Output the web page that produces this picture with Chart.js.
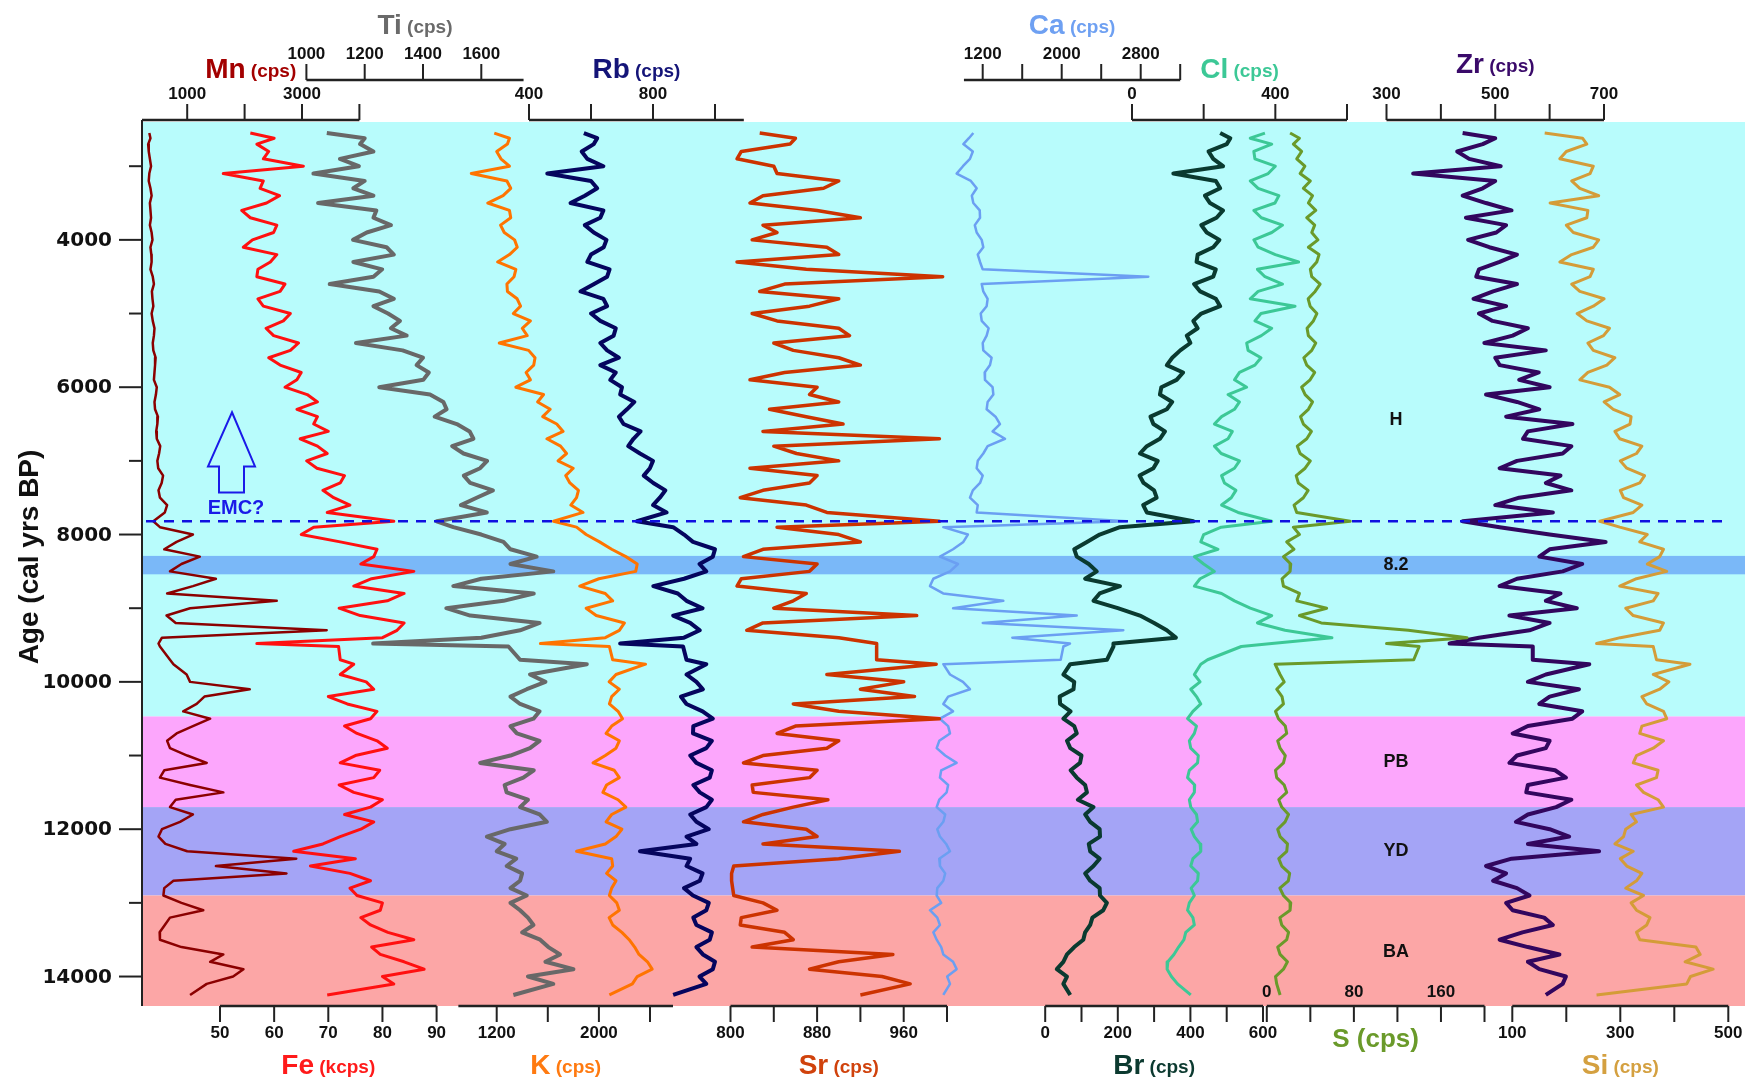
<!DOCTYPE html>
<html>
<head>
<meta charset="utf-8">
<script src="https://cdn.jsdelivr.net/npm/chart.js@4.4.0/dist/chart.umd.min.js"></script>
<style>
  html, body { margin: 0; padding: 0; background: #fff; }
  canvas { display: block; }
</style>
</head>
<body>
<canvas id="xrf" width="1747" height="1084"></canvas>
<script>
// ===============================
// Data (age in cal yrs BP, values per element)
// ===============================
const ages = [
  2550, 2620, 2700, 2800, 2900, 3000, 3100, 3200, 3300, 3400,
  3500, 3600, 3700, 3800, 3900, 4000, 4100, 4200, 4300, 4400,
  4500, 4600, 4700, 4800, 4900, 5000, 5100, 5200, 5300, 5400,
  5500, 5600, 5700, 5800, 5900, 6000, 6100, 6200, 6300, 6400,
  6500, 6600, 6700, 6800, 6900, 7000, 7100, 7200, 7300, 7400,
  7500, 7600, 7700, 7820, 7900, 8000, 8100, 8200, 8300, 8400,
  8500, 8600, 8700, 8800, 8900, 9000, 9100, 9200, 9300, 9400,
  9480, 9520, 9700, 9760, 9900, 10000, 10100, 10200, 10300, 10400,
  10500, 10600, 10700, 10800, 10900, 11000, 11100, 11200, 11300, 11400,
  11500, 11600, 11700, 11800, 11900, 12000, 12100, 12200, 12300, 12400,
  12500, 12600, 12700, 12800, 12900, 13000, 13100, 13200, 13300, 13400,
  13500, 13600, 13700, 13800, 13900, 14000, 14100, 14250];

const mn = [
  340, 360, 320, 330, 350, 370, 340, 330, 360, 380,
  350, 360, 370, 350, 380, 395, 360, 375, 380, 360,
  400, 420, 385, 395, 410, 380, 400, 430, 420, 400,
  410, 450, 440, 430, 420, 470, 455, 430, 440, 490,
  480, 460, 470, 530, 510, 480, 495, 580, 555, 500,
  525, 650, 610, 410, 525, 1100, 815, 600, 1220, 900,
  700, 1500, 1100, 650, 2560, 1050, 640, 800, 3430, 560,
  500, 525, 700, 760, 990, 1050, 2090, 1300, 1165, 930,
  1400, 1100, 815, 650, 700, 1000, 1340, 600, 525, 1050,
  1630, 800, 700, 1100, 875, 560, 500, 620, 1000, 2900,
  1500, 2730, 760, 600, 585, 900, 1280, 700, 610, 520,
  525, 900, 1630, 1400, 1980, 1800, 1340, 1050];
const fe = [
  55.6, 60, 56.8, 59, 58, 65.4, 50.6, 58, 57.4, 61,
  58.6, 54, 55.6, 60.5, 59.9, 56, 54.3, 60.5, 59.3, 57,
  56.8, 62, 61.1, 57, 58.0, 63, 61.7, 58.5, 59.9, 64.5,
  63.0, 59, 61.1, 65, 64.2, 62, 66.1, 68, 64.2, 68,
  67.3, 70, 64.8, 68, 69.8, 66, 67.9, 73, 72.2, 69,
  71.0, 74, 69.8, 82.1, 67.3, 65, 72.2, 79, 78.4, 76,
  85.8, 78, 74.7, 84, 80.9, 72, 75.9, 84, 82.7, 80,
  56.8, 71.9, 72.2, 74.7, 72.2, 77, 78.4, 70, 73.5, 79,
  77.8, 73, 75.3, 79, 80.9, 75, 72.2, 79.5, 78.4, 72,
  74.7, 80, 77.8, 73, 78.4, 76, 72.2, 69, 63.6, 75,
  66.7, 74, 77.8, 74, 75.3, 80, 79.6, 76, 77.8, 81,
  85.8, 78, 79.6, 84, 87.7, 80, 82.1, 69.8];
const ti = [
  1070, 1200, 1184, 1230, 1115, 1180, 1024, 1200, 1161, 1230,
  1040, 1240, 1230, 1290, 1207, 1160, 1275, 1300, 1161, 1260,
  1230, 1080, 1250, 1300, 1230, 1280, 1321, 1290, 1344, 1170,
  1330, 1400, 1378, 1420, 1401, 1250, 1424, 1470, 1481, 1440,
  1516, 1560, 1573, 1500, 1539, 1620, 1596, 1540, 1562, 1640,
  1584, 1530, 1619, 1447, 1504, 1600, 1676, 1700, 1790, 1700,
  1847, 1600, 1504, 1780, 1676, 1480, 1562, 1800, 1733, 1600,
  1229, 1693, 1733, 1962, 1767, 1820, 1756, 1700, 1733, 1800,
  1779, 1700, 1722, 1800, 1767, 1700, 1596, 1780, 1744, 1680,
  1687, 1760, 1733, 1800, 1825, 1700, 1619, 1680, 1653, 1720,
  1687, 1740, 1733, 1700, 1756, 1700, 1733, 1760, 1779, 1740,
  1802, 1830, 1870, 1820, 1916, 1760, 1847, 1710];
const k = [
  1181, 1300, 1284, 1200, 1233, 1300, 1001, 1280, 1310, 1250,
  1130, 1300, 1310, 1230, 1259, 1340, 1361, 1300, 1207, 1350,
  1336, 1280, 1284, 1360, 1387, 1330, 1464, 1400, 1439, 1220,
  1450, 1500, 1490, 1430, 1464, 1350, 1567, 1520, 1619, 1560,
  1670, 1720, 1593, 1700, 1747, 1680, 1799, 1740, 1773, 1840,
  1825, 1780, 1876, 1645, 1825, 1900, 2005, 2100, 2211, 2300,
  2288, 2000, 1850, 2050, 2108, 1900, 1979, 2200, 2160, 2050,
  1542, 2082, 2108, 2365, 2134, 2080, 2160, 2100, 2082, 2150,
  2185, 2100, 2056, 2160, 2134, 2050, 1954, 2120, 2160, 2060,
  2031, 2150, 2211, 2100, 2056, 2180, 2134, 2050, 1825, 2100,
  2108, 2060, 2134, 2100, 2082, 2140, 2160, 2080, 2108, 2180,
  2237, 2280, 2314, 2380, 2417, 2300, 2262, 2082];
const rb = [
  577, 620, 609, 570, 588, 640, 459, 600, 620, 580,
  534, 640, 630, 580, 609, 650, 641, 600, 588, 660,
  652, 610, 566, 640, 652, 600, 630, 680, 673, 630,
  652, 690, 630, 680, 662, 700, 694, 740, 716, 690,
  705, 760, 737, 720, 758, 800, 790, 770, 801, 840,
  822, 800, 844, 748, 865, 900, 929, 1000, 993, 950,
  972, 900, 801, 880, 908, 960, 865, 920, 951, 900,
  694, 897, 908, 972, 908, 940, 961, 890, 908, 960,
  993, 930, 929, 990, 972, 920, 940, 990, 983, 930,
  951, 990, 972, 920, 940, 980, 908, 940, 758, 920,
  908, 960, 951, 900, 929, 980, 972, 930, 940, 990,
  983, 940, 961, 1000, 993, 950, 972, 865];
const sr = [
  827, 860, 855, 810, 806, 840, 843, 900, 886, 830,
  818, 880, 920, 830, 843, 820, 889, 900, 806, 870,
  996, 850, 827, 900, 873, 820, 843, 900, 910, 840,
  858, 900, 920, 850, 818, 880, 873, 900, 836, 870,
  904, 830, 993, 840, 861, 900, 818, 880, 873, 830,
  809, 870, 889, 993, 843, 900, 920, 830, 812, 880,
  873, 810, 806, 870, 858, 840, 972, 830, 815, 900,
  935, 935, 935, 990, 889, 960, 920, 970, 858, 900,
  993, 860, 843, 900, 889, 830, 812, 880, 873, 820,
  821, 890, 858, 830, 812, 870, 880, 830, 956, 900,
  803, 801, 801, 802, 803, 830, 843, 810, 809, 850,
  858, 820, 950, 900, 873, 940, 966, 920];
const ca = [
  1105, 1060, 1004, 1100, 1071, 1000, 936, 1080, 1139, 1090,
  1105, 1170, 1173, 1120, 1139, 1190, 1206, 1150, 1173, 1200,
  2877, 1190, 1206, 1250, 1240, 1180, 1190, 1260, 1240, 1200,
  1206, 1290, 1274, 1220, 1223, 1300, 1308, 1250, 1240, 1330,
  1375, 1300, 1426, 1250, 1206, 1150, 1139, 1200, 1173, 1100,
  1071, 1150, 1139, 2658, 801, 1050, 1004, 900, 767, 950,
  869, 700, 666, 800, 1409, 900, 2152, 1200, 2624, 1500,
  2084, 2017, 1990, 801, 869, 1000, 1071, 850, 801, 900,
  767, 850, 869, 760, 734, 820, 936, 780, 767, 850,
  835, 760, 734, 820, 801, 740, 767, 830, 869, 760,
  767, 820, 801, 740, 734, 780, 666, 740, 767, 700,
  734, 780, 801, 900, 936, 840, 869, 801];
const br = [
  482, 510, 500, 450, 463, 490, 353, 470, 482, 440,
  454, 490, 472, 430, 445, 480, 463, 420, 417, 470,
  463, 410, 427, 470, 482, 430, 408, 420, 390, 400,
  372, 350, 335, 380, 362, 320, 316, 350, 335, 290,
  298, 330, 316, 280, 261, 310, 298, 260, 271, 300,
  307, 270, 280, 408, 206, 150, 115, 80, 87, 120,
  142, 110, 206, 150, 133, 200, 261, 300, 335, 360,
  188, 188, 170, 69, 50, 80, 78, 40, 41, 70,
  50, 80, 87, 60, 69, 100, 96, 70, 87, 110,
  115, 90, 133, 110, 124, 150, 151, 120, 124, 150,
  133, 110, 124, 150, 151, 170, 160, 130, 124, 110,
  105, 80, 60, 50, 32, 60, 50, 69];
const cl = [
  371, 330, 390, 340, 343, 400, 380, 330, 352, 410,
  399, 340, 361, 420, 390, 340, 352, 400, 465, 350,
  371, 420, 352, 330, 455, 360, 343, 390, 361, 320,
  324, 360, 343, 300, 286, 320, 268, 300, 286, 250,
  230, 280, 268, 230, 249, 300, 286, 250, 258, 290,
  277, 250, 296, 390, 249, 200, 192, 240, 174, 200,
  230, 190, 174, 250, 286, 330, 390, 350, 427, 558,
  390, 305, 211, 192, 174, 190, 164, 180, 192, 170,
  155, 180, 174, 160, 164, 185, 183, 160, 155, 175,
  174, 160, 164, 180, 183, 165, 174, 190, 192, 170,
  164, 185, 183, 165, 174, 160, 155, 170, 174, 150,
  145, 130, 117, 100, 98, 110, 127, 164];
const s = [
  21.4, 30, 24.4, 32, 27.5, 35, 30.6, 40, 33.6, 42,
  38.2, 45, 36.7, 44, 41.3, 47, 38.2, 48, 45.9, 40,
  41.3, 49, 44.4, 38, 39.8, 46, 42.8, 37, 38.2, 45,
  41.3, 34, 36.7, 44, 39.8, 32, 35.2, 42, 38.2, 31,
  33.6, 41, 36.7, 28, 30.6, 40, 35.2, 27, 29.0, 38,
  33.6, 25, 27.5, 76.6, 24.4, 30, 18.3, 25, 15.3, 22,
  21.4, 14, 15.3, 30, 27.5, 55, 30, 50, 130, 184,
  110, 140, 135, 7.6, 12.2, 16, 9.1, 14, 15.3, 8,
  10.7, 17, 18.3, 10, 12.2, 17, 15.3, 8, 9.1, 16,
  18.3, 11, 13.7, 20, 16.8, 10, 12.2, 19, 18.3, 11,
  13.7, 21, 19.8, 12, 15.3, 22, 21.4, 12, 13.7, 20,
  18.3, 10, 12.2, 19, 15.3, 8, 9.1, 12.2];
const zr = [
  440, 500, 477, 430, 452, 510, 349, 500, 477, 440,
  483, 530, 446, 520, 502, 450, 489, 540, 508, 470,
  465, 540, 496, 460, 520, 470, 495, 560, 532, 480,
  593, 500, 508, 580, 544, 600, 483, 540, 581, 520,
  642, 560, 551, 640, 624, 540, 508, 620, 593, 640,
  544, 500, 606, 440, 508, 600, 703, 600, 581, 660,
  624, 540, 508, 620, 593, 650, 526, 600, 563, 470,
  416, 569, 569, 673, 593, 560, 654, 600, 581, 660,
  642, 560, 532, 600, 593, 540, 526, 610, 630, 560,
  557, 640, 612, 560, 538, 600, 636, 560, 691, 530,
  483, 520, 496, 540, 563, 520, 532, 590, 606, 550,
  508, 560, 618, 560, 581, 630, 624, 593];
const si = [
  160, 230, 238, 200, 188, 250, 244, 210, 225, 260,
  170, 240, 238, 200, 213, 260, 250, 210, 188, 250,
  244, 210, 225, 270, 250, 220, 238, 280, 269, 240,
  250, 290, 275, 240, 225, 280, 299, 270, 287, 320,
  318, 290, 299, 340, 330, 300, 312, 345, 336, 300,
  306, 340, 324, 262, 299, 350, 336, 380, 373, 350,
  386, 330, 299, 370, 361, 310, 324, 380, 373, 300,
  256, 361, 367, 429, 361, 390, 373, 340, 349, 380,
  386, 340, 336, 380, 361, 330, 324, 370, 367, 330,
  343, 370, 380, 320, 330, 310, 306, 290, 324, 300,
  312, 340, 330, 310, 343, 320, 330, 355, 349, 330,
  336, 440, 448, 420, 472, 430, 423, 256];

// tick values for each element axis
const mnTicks = [1000, 2000, 3000, 4000], mnLabels = [1000, 3000];
const tiTicks = [1000, 1200, 1400, 1600], tiLabels = [1000, 1200, 1400, 1600];
const rbTicks = [400, 600, 800, 1000], rbLabels = [400, 800];
const caTicks = [1200, 1600, 2000, 2400, 2800, 3200], caLabels = [1200, 2000, 2800];
const clTicks = [0, 200, 400, 600], clLabels = [0, 400];
const zrTicks = [300, 400, 500, 600, 700], zrLabels = [300, 500, 700];
const feTicks = [50, 60, 70, 80, 90], feLabels = [50, 60, 70, 80, 90];
const kTicks = [1200, 1600, 2000, 2400], kLabels = [1200, 2000];
const srTicks = [800, 840, 880, 920, 960, 1000], srLabels = [800, 880, 960];
const brTicks = [0, 100, 200, 300, 400, 500, 600], brLabels = [0, 200, 400, 600];
const sTicks = [0, 40, 80, 120, 160, 200], sLabels = [0, 80, 160];
const siTicks = [100, 200, 300, 400, 500], siLabels = [100, 300, 500];

// climate zones (ages)
const zoneNames = ["H", "PB", "YD", "BA"];
const zoneTop = [2400, 10470, 11700, 12900];
const zoneBottom = [10470, 11700, 12900, 14400];
const zoneLabelAge = [6450, 11090, 12300, 13665];
const event82 = [8290, 8540];
const emcAge = 7820;

// ===============================
// Layout helpers
// ===============================
const AREA = { left: 142, top: 122, right: 1745, bottom: 1006 };
const FONT = '"Liberation Sans", Arial, sans-serif';

// value v1 at pixel p1, v2 at p2 -> scale min / max for the full plot width
function span(v1, p1, v2, p2) {
  const kk = (v2 - v1) / (p2 - p1);
  return { min: v1 - (p1 - AREA.left) * kk, max: v1 + (AREA.right - p1) * kk };
}

const series = [
  { id: "Mn", data: mn, color: "#8b0000", width: 2.5, span: span(1000, 187.2, 4000, 359.4) },
  { id: "Fe", data: fe, color: "#ff1010", width: 3, span: span(50, 220, 90, 436.6) },
  { id: "Ti", data: ti, color: "#686868", width: 4, span: span(1000, 306.4, 1600, 481.3) },
  { id: "K", data: k, color: "#ff7400", width: 3, span: span(1200, 496.7, 2400, 650) },
  { id: "Rb", data: rb, color: "#05055e", width: 4, span: span(400, 529, 1000, 715) },
  { id: "Sr", data: sr, color: "#cc3300", width: 3.5, span: span(800, 730.5, 1000, 947) },
  { id: "Ca", data: ca, color: "#6b9ff2", width: 2.5, span: span(1200, 982.7, 2800, 1140.7) },
  { id: "Br", data: br, color: "#0a3a30", width: 4, span: span(0, 1045.2, 600, 1263) },
  { id: "Cl", data: cl, color: "#3cc896", width: 3, span: span(0, 1132, 600, 1347) },
  { id: "S", data: s, color: "#6a9a2a", width: 3, span: span(0, 1266.8, 200, 1484.5) },
  { id: "Zr", data: zr, color: "#32065e", width: 4, span: span(300, 1386.5, 700, 1604) },
  { id: "Si", data: si, color: "#d49c38", width: 3, span: span(100, 1512.3, 500, 1728.3) },
];

const axes = [
  { id: "Mn", side: "top", lineY: 120, from: null, to: 4000, ticks: mnTicks, labels: mnLabels, unit: " (cps)", color: "#a30000", titleY: 70 },
  { id: "Ti", side: "top", lineY: 80, from: 1000, to: 1745, ticks: tiTicks, labels: tiLabels, unit: " (cps)", color: "#6a6a6a", titleY: 26 },
  { id: "Rb", side: "top", lineY: 120, from: 400, to: 1093, ticks: rbTicks, labels: rbLabels, unit: " (cps)", color: "#141478", titleY: 70 },
  { id: "Ca", side: "top", lineY: 80, from: 1010, to: 3200, ticks: caTicks, labels: caLabels, unit: " (cps)", color: "#6ea0f2", titleY: 26 },
  { id: "Cl", side: "top", lineY: 120, from: 0, to: 600, ticks: clTicks, labels: clLabels, unit: " (cps)", color: "#3cc896", titleY: 70 },
  { id: "Zr", side: "top", lineY: 120, from: 300, to: 700, ticks: zrTicks, labels: zrLabels, unit: " (cps)", color: "#3a0a6a", titleY: 65 },
  { id: "Fe", side: "bottom", lineY: 1006, from: 50, to: 90, ticks: feTicks, labels: feLabels, unit: " (kcps)", color: "#ff1a1a", titleY: 1066 },
  { id: "K", side: "bottom", lineY: 1006, from: 900, to: 2580, ticks: kTicks, labels: kLabels, unit: " (cps)", color: "#ff7a10", titleY: 1066 },
  { id: "Sr", side: "bottom", lineY: 1006, from: 800, to: 1000, ticks: srTicks, labels: srLabels, unit: " (cps)", color: "#d0420c", titleY: 1066 },
  { id: "Br", side: "bottom", lineY: 1006, from: 0, to: 600, ticks: brTicks, labels: brLabels, unit: " (cps)", color: "#0c3a30", titleY: 1066 },
  { id: "S", side: "bottom", lineY: 1006, from: 0, to: 200, ticks: sTicks, labels: sLabels, unit: " (cps)", color: "#6a9a2a", titleY: 1040, inside: true, big: true },
  { id: "Si", side: "bottom", lineY: 1006, from: 100, to: 500, ticks: siTicks, labels: siLabels, unit: " (cps)", color: "#d4a040", titleY: 1066 },
];

function drawTitle(ctx, x, y, sym, unit, color, big) {
  ctx.save();
  ctx.fillStyle = color;
  ctx.textBaseline = "middle";
  const f1 = "bold " + (big ? 26 : 28) + "px " + FONT;
  const f2 = "bold " + (big ? 26 : 19) + "px " + FONT;
  ctx.font = f1;
  const w1 = ctx.measureText(sym).width;
  ctx.font = f2;
  const w2 = ctx.measureText(unit).width;
  const x0 = x - (w1 + w2) / 2;
  ctx.textAlign = "left";
  ctx.font = f1;
  ctx.fillText(sym, x0, y);
  ctx.font = f2;
  ctx.fillText(unit, x0 + w1, y + (big ? 0 : 2));
  ctx.restore();
}

const decor = {
  id: "decor",
  beforeDatasetsDraw(chart) {
    const { ctx, chartArea } = chart;
    const y = chart.scales.y;
    const bandColors = ["#b8fcfc", "#fca6fc", "#a4a4f6", "#fca6a6"];
    ctx.save();
    zoneNames.forEach((z, i) => {
      const y0 = y.getPixelForValue(zoneTop[i]);
      const y1 = y.getPixelForValue(zoneBottom[i]);
      ctx.fillStyle = bandColors[i];
      ctx.fillRect(chartArea.left, y0, chartArea.right - chartArea.left, y1 - y0);
    });
    const e0 = y.getPixelForValue(event82[0]);
    const e1 = y.getPixelForValue(event82[1]);
    ctx.fillStyle = "#7ab8f8";
    ctx.fillRect(chartArea.left, e0, chartArea.right - chartArea.left, e1 - e0);
    ctx.restore();
  },
  afterDatasetsDraw(chart) {
    const { ctx, chartArea } = chart;
    const y = chart.scales.y;
    ctx.save();

    // EMC dashed line
    const yd = y.getPixelForValue(emcAge);
    ctx.strokeStyle = "#1010e0";
    ctx.lineWidth = 2.5;
    ctx.setLineDash([10, 8]);
    ctx.beginPath();
    ctx.moveTo(chartArea.left + 4, yd);
    ctx.lineTo(1722, yd);
    ctx.stroke();
    ctx.setLineDash([]);

    // hollow up arrow + label
    const tip = y.getPixelForValue(6340);
    const head = y.getPixelForValue(7075);
    const base = y.getPixelForValue(7430);
    ctx.strokeStyle = "#1a1ae8";
    ctx.lineWidth = 2;
    ctx.beginPath();
    ctx.moveTo(232, tip);
    ctx.lineTo(255, head);
    ctx.lineTo(244, head);
    ctx.lineTo(244, base);
    ctx.lineTo(219, base);
    ctx.lineTo(219, head);
    ctx.lineTo(208, head);
    ctx.closePath();
    ctx.stroke();
    ctx.fillStyle = "#1a1ae8";
    ctx.font = "bold 20px " + FONT;
    ctx.textAlign = "center";
    ctx.textBaseline = "middle";
    ctx.fillText("EMC?", 236, y.getPixelForValue(7640));

    // zone labels
    ctx.fillStyle = "#111";
    ctx.font = "bold 18px " + FONT;
    zoneNames.forEach((z, i) => ctx.fillText(z, 1396, y.getPixelForValue(zoneLabelAge[i])));
    ctx.fillText("8.2", 1396, y.getPixelForValue((event82[0] + event82[1]) / 2));
    ctx.restore();
  },
  afterDraw(chart) {
    const { ctx, chartArea } = chart;
    const y = chart.scales.y;
    ctx.save();
    ctx.strokeStyle = "#222";
    ctx.fillStyle = "#111";

    // age axis
    ctx.lineWidth = 2;
    ctx.beginPath();
    ctx.moveTo(chartArea.left, chartArea.top - 2);
    ctx.lineTo(chartArea.left, chartArea.bottom);
    ctx.stroke();
    ctx.font = "bold 20px 'DejaVu Sans', sans-serif";
    ctx.textAlign = "right";
    ctx.textBaseline = "middle";
    for (let a = 3000; a <= 14000; a += 1000) {
      const py = y.getPixelForValue(a);
      const major = a % 2000 === 0;
      ctx.beginPath();
      ctx.moveTo(chartArea.left - (major ? 23 : 13), py);
      ctx.lineTo(chartArea.left, py);
      ctx.stroke();
      if (major) ctx.fillText(String(a), chartArea.left - 30, py + 1);
    }
    ctx.save();
    ctx.translate(30, 557);
    ctx.rotate(-Math.PI / 2);
    ctx.textAlign = "center";
    ctx.font = "bold 28px " + FONT;
    ctx.fillText("Age (cal yrs BP)", 0, 0);
    ctx.restore();

    // element axes
    axes.forEach((ax) => {
      const sc = chart.scales[ax.id];
      const dir = ax.side === "top" ? -1 : 1;
      const x0 = ax.from === null ? chartArea.left : sc.getPixelForValue(ax.from);
      const x1 = sc.getPixelForValue(ax.to);
      ctx.lineWidth = 2.5;
      ctx.beginPath();
      ctx.moveTo(x0, ax.lineY);
      ctx.lineTo(x1, ax.lineY);
      ctx.stroke();
      ctx.lineWidth = 2;
      ax.ticks.forEach((t) => {
        const px = sc.getPixelForValue(t);
        ctx.beginPath();
        ctx.moveTo(px, ax.lineY);
        ctx.lineTo(px, ax.lineY + dir * 16);
        ctx.stroke();
      });
      ctx.font = "bold 17px " + FONT;
      ctx.textAlign = "center";
      ctx.textBaseline = "middle";
      ctx.fillStyle = "#111";
      ax.labels.forEach((t) => {
        const px = sc.getPixelForValue(t);
        let ly = ax.side === "top" ? ax.lineY - 26 : ax.lineY + 27;
        if (ax.inside) ly = ax.lineY - 14;
        ctx.fillText(String(t), px, ly);
      });
      drawTitle(ctx, (x0 + x1) / 2, ax.titleY, ax.id, ax.unit, ax.color, ax.big);
    });
    ctx.restore();
  },
};

// ===============================
// Chart
// ===============================
const scales = {
  y: { type: "linear", reverse: true, min: 2400, max: 14400, display: false },
};
series.forEach((sr) => {
  scales[sr.id] = { type: "linear", axis: "x", position: "top", min: sr.span.min, max: sr.span.max, display: false };
});

new Chart(document.getElementById("xrf"), {
  type: "scatter",
  data: {
    datasets: series.map((sr) => ({
      label: sr.id,
      data: ages.map((a, i) => ({ x: sr.data[i], y: a })),
      xAxisID: sr.id,
      yAxisID: "y",
      showLine: true,
      borderColor: sr.color,
      borderWidth: sr.width,
      pointRadius: 0,
      tension: 0,
      borderJoinStyle: "round",
    })),
  },
  options: {
    responsive: false,
    devicePixelRatio: 1,
    animation: false,
    layout: { padding: { left: AREA.left, top: AREA.top, right: 1747 - AREA.right, bottom: 1084 - AREA.bottom } },
    plugins: { legend: { display: false }, tooltip: { enabled: false } },
    scales: scales,
  },
  plugins: [decor],
});
</script>
</body>
</html>
